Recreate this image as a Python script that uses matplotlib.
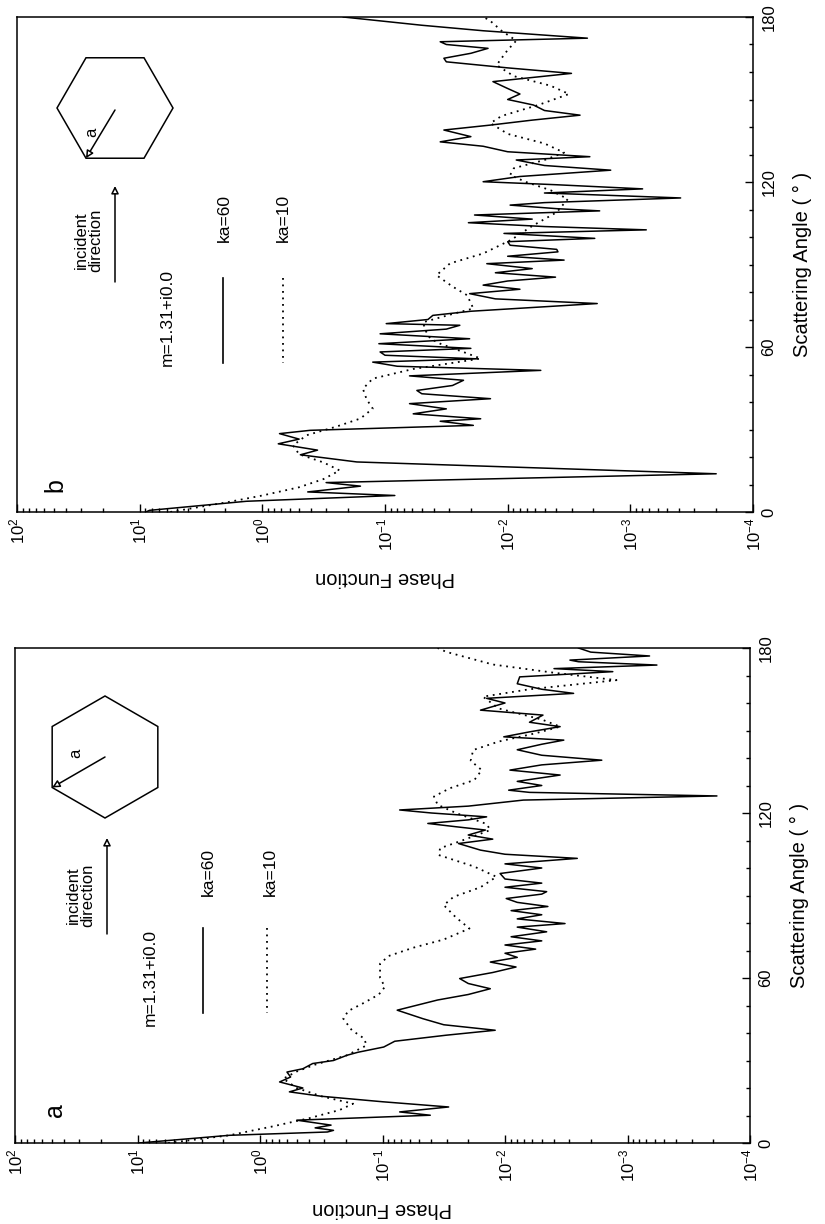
import numpy as np
import matplotlib.pyplot as plt
from matplotlib.patches import Polygon, FancyArrowPatch
from matplotlib.ticker import LogLocator, MultipleLocator, NullFormatter
from matplotlib.lines import Line2D

plt.rcParams['font.family'] = ['Liberation Sans', 'DejaVu Sans']
plt.rcParams['mathtext.fontset'] = 'custom'
plt.rcParams['mathtext.rm'] = 'Liberation Sans'
plt.rcParams['mathtext.default'] = 'regular'

# ---- data: scattering angle (deg) and log10(phase function)
# panel b, ka=60 (solid)
b60_theta = [0, 0.6, 3.9, 6.0, 7.3, 9.4, 10.7, 13.9, 18.2, 20.8, 22.5, 24.8, 26.5, 28.5, 29.7,
             31.5, 33.0, 33.9, 35.7, 37.5, 39.4, 41.2, 43.0, 44.2, 46.0, 47.9, 49.5, 51.5, 53.0,
             54.5, 55.7, 57.0, 58.2, 59.5, 61.2, 63.0, 64.8, 66.5, 67.9, 68.5, 70.0, 71.5, 73.0,
             75.8, 77.5, 79.4, 81.0, 82.5, 84.0, 85.4, 87.0, 88.5, 90.3, 91.6, 93.0, 94.6, 95.5,
             97.0, 98.3, 99.5, 101.3, 102.6, 103.8, 105.2, 106.5, 108.0, 109.5, 110.3, 111.6,
             112.5, 114.2, 116.0, 117.5, 119.0, 120.1, 122.0, 124.3, 126.0, 128.0, 129.2, 131.0,
             133.0, 134.6, 136.5, 138.9, 140.7, 142.5, 144.3, 146.0, 148.0, 150.0, 152.0, 154.0,
             156.5, 158.0, 159.5, 161.5, 163.7, 165.0, 166.8, 168.6, 170.0, 171.0, 172.3, 175.0,
             177.0, 180.0]
b60_logp = [0.95, 0.92, 0.13, -1.08, -0.37, -0.80, -0.52, -3.70, -0.77, -0.31, -0.45, -0.13, -0.30,
            -0.14, -0.39, -1.72, -1.45, -1.78, -1.23, -1.50, -1.20, -1.86, -1.30, -1.26, -1.55,
            -1.64, -1.20, -2.27, -1.10, -0.90, -1.75, -1.00, -0.96, -1.70, -0.95, -1.69, -0.96,
            -1.50, -1.61, -1.01, -1.35, -1.39, -1.70, -2.73, -1.90, -1.69, -2.10, -1.80, -2.00,
            -2.39, -1.90, -2.20, -1.83, -2.46, -2.00, -2.41, -2.40, -2.02, -2.00, -2.71, -1.97,
            -3.13, -2.30, -1.68, -2.20, -1.73, -2.75, -2.40, -2.02, -2.30, -3.41, -2.30, -3.10,
            -2.40, -1.80, -2.10, -2.84, -2.30, -2.07, -2.67, -2.00, -1.80, -1.45, -1.70, -1.48,
            -1.86, -2.20, -2.59, -2.30, -2.21, -2.00, -2.10, -2.00, -1.88, -2.20, -2.52, -2.00,
            -1.50, -1.48, -1.70, -1.84, -1.50, -1.45, -2.65, -1.80, -1.30, -0.66]

# panel b, ka=10 (dotted)
b10_theta = [0, 3.6, 6, 9, 12, 15.1, 18, 21, 24.2, 27.9, 31, 34, 37.6, 41, 44.8, 48.5, 52, 55.8,
             58, 61.2, 63, 66, 69, 72, 74, 78.8, 82, 86.1, 90.4, 94, 99, 104, 109, 113.8, 117,
             120, 122.5, 125, 128, 130.7, 134, 137.5, 141.4, 144, 148, 152, 155, 158.5, 162.5,
             165, 168, 171.4, 175, 178.9, 180]
b10_logp = [0.75, 0.28, 0.0, -0.30, -0.50, -0.63, -0.50, -0.30, -0.25, -0.36, -0.60, -0.80, -0.90,
            -0.85, -0.82, -0.90, -1.23, -1.78, -1.65, -1.45, -1.37, -1.33, -1.31, -1.55, -1.72,
            -1.67, -1.55, -1.42, -1.53, -1.80, -2.03, -2.20, -2.40, -2.49, -2.35, -2.15, -2.02,
            -2.05, -2.30, -2.46, -2.30, -2.00, -1.86, -1.95, -2.25, -2.50, -2.35, -2.05, -1.91,
            -1.95, -2.00, -2.07, -1.95, -1.85, -1.80]

# panel a, ka=60 (solid)
a60_theta = [0, 2.8, 4.0, 4.6, 5.5, 6.5, 8.3, 10.1, 11.3, 13.1, 15, 17, 18.6, 20, 22.2, 24, 25.8,
             27, 28.9, 30, 31.9, 33, 34.9, 37, 39.2, 41, 43, 45.2, 48.3, 52, 54, 56.1, 58, 59.8,
             62, 64, 65.8, 67.5, 69, 70.5, 72, 73.5, 75, 76.8, 78.5, 79.8, 81.5, 83, 84.5, 86,
             87.5, 88.9, 90.5, 91.4, 93, 94.5, 96, 98, 100, 101.5, 103.5, 105, 106.5, 108.9,
             110.5, 112, 113.8, 115, 116.2, 117.5, 118.6, 120, 121.1, 122.5, 124.7, 126.2, 127.5,
             128.3, 130, 131.5, 133.8, 135.6, 137.5, 139.2, 141, 143, 145, 146.5, 147.7, 149.5,
             151.4, 153, 155.6, 157.4, 160, 161.7, 163.5, 165, 167, 169.5, 171.4, 172.5, 173.8,
             175, 175.6, 177.1, 178.5, 180]
a60_logp = [0.99, 0.25, -0.55, -0.60, -0.45, -0.58, -0.30, -1.39, -1.14, -1.54, -1.00, -0.50,
            -0.24, -0.35, -0.16, -0.25, -0.22, -0.35, -0.43, -0.60, -0.71, -0.80, -1.01, -1.10,
            -1.52, -1.92, -1.50, -1.33, -1.12, -1.45, -1.70, -1.88, -1.70, -1.63, -1.90, -2.09,
            -1.88, -2.10, -2.00, -2.25, -2.00, -2.30, -2.05, -2.34, -2.10, -2.49, -2.10, -2.30,
            -2.05, -2.35, -2.10, -2.01, -2.30, -2.34, -2.00, -2.30, -2.00, -1.96, -2.30, -2.00,
            -2.59, -2.00, -1.80, -1.62, -1.90, -1.70, -1.84, -1.60, -1.37, -1.70, -1.85, -1.40,
            -1.14, -1.70, -2.15, -3.73, -2.20, -2.03, -2.30, -2.10, -2.45, -2.04, -2.30, -2.79,
            -2.30, -2.10, -2.30, -2.48, -1.99, -2.20, -2.45, -2.20, -2.31, -1.80, -2.00, -1.85,
            -2.56, -2.30, -2.10, -2.12, -2.88, -2.40, -3.24, -2.60, -2.53, -3.18, -2.70, -2.60]

# panel a, ka=10 (dotted)
a10_theta = [0, 2.8, 6, 9, 12, 14.3, 17, 20, 23.4, 26, 28.5, 31.9, 35.5, 38, 41, 45.2, 48, 51, 54,
             56.8, 60, 65.2, 68, 71, 74, 78, 82, 86.5, 89.5, 93, 96.8, 100.5, 104.7, 107.2, 110,
             113.8, 116, 120, 123, 126, 129, 132, 135.6, 139, 142.9, 146, 149, 151.4, 154, 158,
             162.3, 165, 168.3, 171, 174, 178.6, 180]
a10_logp = [0.75, 0.25, -0.10, -0.40, -0.65, -0.76, -0.50, -0.30, -0.19, -0.30, -0.45, -0.71,
            -0.87, -0.85, -0.75, -0.68, -0.72, -0.85, -0.97, -1.02, -0.98, -0.98, -1.05, -1.25,
            -1.50, -1.71, -1.60, -1.50, -1.58, -1.80, -1.93, -1.75, -1.46, -1.47, -1.65, -1.88,
            -1.85, -1.60, -1.45, -1.42, -1.55, -1.75, -1.81, -1.72, -1.74, -1.95, -2.25, -2.45,
            -2.30, -1.95, -1.82, -2.20, -2.91, -2.40, -1.90, -1.52, -1.45]

phase_ticks = [1e2, 1e1, 1e0, 1e-1, 1e-2, 1e-3, 1e-4]
phase_labels = ['$10^{2}$', '$10^{1}$', '$10^{0}$', '$10^{-1}$', '$10^{-2}$', '$10^{-3}$', '$10^{-4}$']
angle_ticks = [0, 60, 120, 180]
angle_labels = ['0', '60', '120', '180']

W, H = 825, 1224
fig = plt.figure(figsize=(W / 100, H / 100), dpi=100)


def fx(px):
    return px / W


def fy(py):
    return 1 - py / H


def panel(rect_px, th60, lp60, th10, lp10):
    x0, y0, x1, y1 = rect_px
    ax = fig.add_axes([fx(x0), fy(y1), fx(x1) - fx(x0), fy(y0) - fy(y1)])
    ax.plot(10 ** np.array(lp60), th60, color='black', lw=1.1)
    ax.plot(10 ** np.array(lp10), th10, color='black', lw=1.3, ls=(0, (1, 2.6)))
    ax.set_xscale('log')
    ax.set_xlim(1e2, 1e-4)
    ax.set_ylim(0, 180)
    ax.set_xticks(phase_ticks)
    ax.set_xticklabels(phase_labels, rotation=90, fontsize=12)
    ax.xaxis.set_minor_locator(LogLocator(base=10, subs=np.arange(2, 10)))
    ax.xaxis.set_minor_formatter(NullFormatter())
    ax.yaxis.tick_right()
    ax.yaxis.set_label_position('right')
    ax.set_yticks(angle_ticks)
    ax.set_yticklabels(angle_labels, rotation=90, va='center', fontsize=12)
    ax.yaxis.set_minor_locator(MultipleLocator(10))
    ax.tick_params(which='both', direction='in', top=False, left=False,
                   right=True, bottom=True, width=1)
    ax.tick_params(which='major', length=6)
    ax.tick_params(which='minor', length=3)
    ax.tick_params(axis='x', pad=4)
    ax.tick_params(axis='y', pad=6)
    ax.set_xlabel('Phase Function', rotation=180, fontsize=14.5, labelpad=12)
    ax.set_ylabel('Scattering Angle ( \u00b0 )', rotation=90, fontsize=14.5, labelpad=12)
    for s in ax.spines.values():
        s.set_linewidth(1.1)
    return ax


def txt(px, py, s, size=12.5, **kw):
    fig.text(fx(px), fy(py), s, rotation=90, ha='center', va='center',
             fontsize=size, transform=fig.transFigure, **kw)


def vline(px, py0, py1, **kw):
    fig.add_artist(Line2D([fx(px), fx(px)], [fy(py0), fy(py1)], color='black',
                          transform=fig.transFigure, **kw))


def arrow(p0, p1):
    fig.add_artist(FancyArrowPatch((fx(p0[0]), fy(p0[1])), (fx(p1[0]), fy(p1[1])),
                                   transform=fig.transFigure, arrowstyle='-|>',
                                   mutation_scale=11, lw=1.1, color='black',
                                   fc='white', shrinkA=0, shrinkB=0))


def hexagon(cx, cy, r, start):
    # pixel space, y pointing down
    ang = np.deg2rad(start + 60 * np.arange(6))
    pts = [(fx(cx + r * np.cos(a)), fy(cy + r * np.sin(a))) for a in ang]
    fig.add_artist(Polygon(pts, closed=True, fill=False, ec='black', lw=1.1,
                           transform=fig.transFigure))


def corner(cx, cy, r, deg):
    a = np.deg2rad(deg)
    return (cx + r * np.cos(a), cy + r * np.sin(a))


# panel b (top)
panel((17, 17, 753, 512), b60_theta, b60_logp, b10_theta, b10_logp)
txt(55, 485, 'b', size=18)
txt(167, 318, 'm=1.31+i0.0')
vline(223, 278, 363, lw=1.2)
vline(283, 278, 363, lw=1.3, ls=(0, (1, 2.6)))
txt(224, 218, 'ka=60')
txt(283, 218, 'ka=10')
txt(89, 240, 'incident\ndirection', size=12, linespacing=0.95)
arrow((115, 282), (115, 186))
hexagon(115, 108, 58, 0)
arrow((115, 110), corner(115, 108, 58, 120))
txt(92, 132, 'a', size=12)

# panel a (bottom)
panel((15, 648, 750, 1143), a60_theta, a60_logp, a10_theta, a10_logp)
txt(55, 1110, 'a', size=18)
txt(150, 977, 'm=1.31+i0.0')
vline(203, 928, 1013, lw=1.2)
vline(267, 928, 1013, lw=1.3, ls=(0, (1, 2.6)))
txt(208, 872, 'ka=60')
txt(270, 872, 'ka=10')
txt(81, 895, 'incident\ndirection', size=12, linespacing=0.95)
arrow((107, 934), (107, 838))
hexagon(105, 757, 61, 30)
arrow((105, 757), corner(105, 757, 61, 150))
txt(76, 753, 'a', size=12)

fig.savefig('out.png', dpi=100)
